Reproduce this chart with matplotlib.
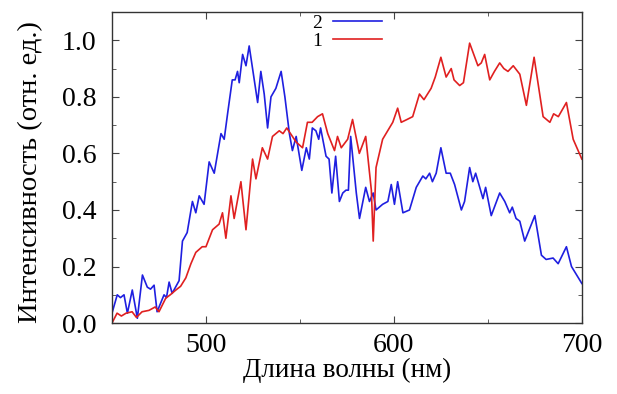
import numpy as np
import matplotlib.pyplot as plt
from matplotlib.ticker import MultipleLocator

plt.rcParams['font.family'] = ['Liberation Serif', 'DejaVu Serif']

# curve 2 (blue)
wl_2 = [450, 452.8, 454.5, 456.4, 458.2, 460.8, 463.5, 466.2, 468.8, 470.5,
        472.4, 474, 477.7, 479, 480.4, 482, 485.7, 487.5, 490, 492.8,
        494.6, 496.4, 499, 501.7, 504.4, 508, 509.7, 511.5, 514, 515.5,
        516.8, 517.7, 519.5, 521.3, 523, 524.8, 527.5, 529.2, 531, 532.8,
        534.6, 537.2, 540, 542, 544.4, 546, 548, 551, 553.4, 555,
        556.6, 558.5, 560, 561, 563.9, 565.5, 567, 569, 571, 572.8,
        574.5, 575.8, 577, 580, 581.7, 585, 587, 589, 590.5, 594,
        596.8, 598.6, 600.3, 602, 604.8, 608.3, 611.9, 615.4, 617, 619,
        620.5, 622.5, 625, 627.8, 630, 632.3, 635.9, 637.6, 640.3, 642,
        643.5, 647.4, 648.8, 651.8, 656.3, 659, 661.6, 663, 665, 667,
        669.6, 671.4, 675, 678.5, 681, 684.7, 687.4, 691.8, 694.5, 700]
int_2 = [0.035, 0.10, 0.09, 0.10, 0.035, 0.117, 0.017, 0.17, 0.127, 0.12,
         0.134, 0.04, 0.10, 0.09, 0.145, 0.105, 0.15, 0.29, 0.32, 0.43,
         0.39, 0.45, 0.42, 0.57, 0.53, 0.67, 0.65, 0.74, 0.86, 0.86,
         0.89, 0.85, 0.95, 0.91, 0.98, 0.90, 0.78, 0.89, 0.81, 0.69,
         0.80, 0.83, 0.89, 0.80, 0.67, 0.61, 0.66, 0.54, 0.62, 0.58,
         0.69, 0.68, 0.65, 0.69, 0.59, 0.58, 0.46, 0.59, 0.43, 0.46,
         0.47, 0.47, 0.66, 0.46, 0.37, 0.48, 0.43, 0.46, 0.40, 0.42,
         0.43, 0.49, 0.42, 0.50, 0.39, 0.40, 0.48, 0.52, 0.51, 0.53,
         0.50, 0.53, 0.62, 0.53, 0.53, 0.49, 0.40, 0.43, 0.55, 0.50,
         0.53, 0.44, 0.48, 0.38, 0.46, 0.43, 0.39, 0.41, 0.37, 0.36,
         0.29, 0.32, 0.38, 0.24, 0.225, 0.23, 0.21, 0.27, 0.20, 0.14]

# curve 1 (red)
wl_1 = [450, 452.7, 455, 457.5, 460.7, 463, 466, 469.7, 473, 475,
        478.6, 481, 484, 486.5, 489.3, 492, 494.6, 498, 500, 503.5,
        507, 508.8, 510.6, 513.3, 515, 518.6, 521.3, 524.8, 526.6, 530,
        532.8, 535.4, 539, 541, 543, 546, 548, 551.4, 554, 556.5,
        559.4, 562, 564.8, 568.4, 570, 572, 575.4, 578, 581.6, 585,
        588, 589, 590.5, 594, 599.4, 602, 603.9, 607, 610, 613.6,
        616, 619.8, 622, 625, 627.8, 630.5, 632, 635, 637, 640.3,
        644.7, 646.5, 648.3, 651, 653.5, 656.3, 658.5, 660.7, 663.5, 667,
        670.5, 674.6, 679.4, 683, 685, 687.5, 691.8, 695.4, 700]
int_1 = [0.0, 0.035, 0.025, 0.035, 0.04, 0.02, 0.04, 0.045, 0.057, 0.04,
         0.088, 0.10, 0.117, 0.13, 0.16, 0.21, 0.25, 0.27, 0.27, 0.33,
         0.35, 0.39, 0.30, 0.45, 0.37, 0.50, 0.33, 0.58, 0.51, 0.62,
         0.58, 0.66, 0.68, 0.67, 0.69, 0.66, 0.64, 0.62, 0.71, 0.71,
         0.73, 0.74, 0.67, 0.61, 0.66, 0.62, 0.65, 0.72, 0.60, 0.66,
         0.47, 0.29, 0.55, 0.65, 0.71, 0.76, 0.71, 0.72, 0.73, 0.81,
         0.79, 0.83, 0.87, 0.94, 0.87, 0.90, 0.86, 0.84, 0.85, 0.99,
         0.91, 0.92, 0.95, 0.86, 0.89, 0.92, 0.90, 0.89, 0.91, 0.88,
         0.77, 0.94, 0.73, 0.71, 0.74, 0.73, 0.78, 0.65, 0.58]

fig = plt.figure(figsize=(6.17, 3.94), dpi=100)
ax = fig.add_axes([0.1815, 0.180, 0.7615, 0.7895])

ax.plot(wl_2, int_2, color='#1f1fe0', lw=1.2, label='2')
ax.plot(wl_1, int_1, color='#e02020', lw=1.2, label='1')

ax.set_xlim(450, 700)
ax.set_ylim(0, 1.1)
ax.xaxis.set_minor_locator(MultipleLocator(50))
ax.yaxis.set_major_locator(MultipleLocator(0.2))
ax.yaxis.set_minor_locator(MultipleLocator(0.1))
ax.set_xticks([500, 600, 700])
ax.yaxis.set_major_formatter(plt.FuncFormatter(lambda v, p: f'{v:.1f}'))
ax.tick_params(which='both', direction='in', top=True, right=True,
               labelsize=20, color='#444444')
ax.tick_params(which='major', length=5)
ax.tick_params(which='minor', length=3)
ax.tick_params(axis='y', pad=11)
ax.tick_params(axis='x', pad=7)
for s in ax.spines.values():
    s.set_color('#333333')
    s.set_linewidth(1.0)

ax.set_xlabel('Длина волны (нм)', fontsize=19.5, labelpad=0)
ax.set_ylabel('Интенсивность (отн. ед.)', fontsize=20.5)
ax.yaxis.set_label_coords(-0.147, 0.485)

ax.legend(loc='upper center', bbox_to_anchor=(0.5, 1.03), frameon=False,
          markerfirst=False, fontsize=14, handlelength=2.5, handletextpad=0.6,
          labelspacing=0.0, borderpad=0.1)

fig.savefig('out.png', dpi=100)
